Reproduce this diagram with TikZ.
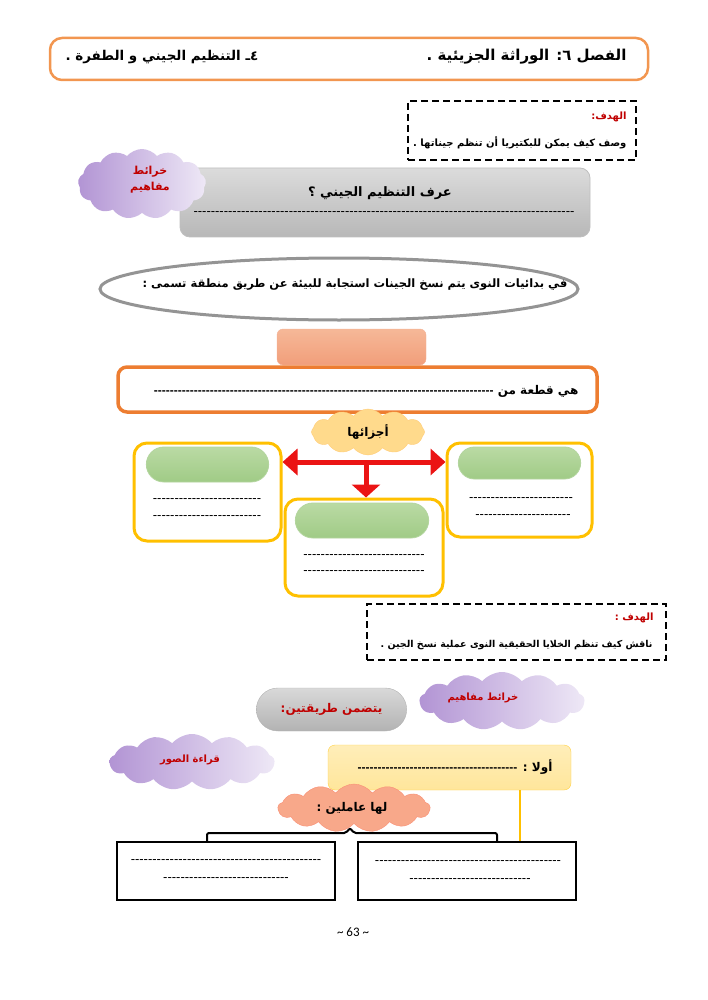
\documentclass[tikz,border=0pt]{standalone}
\usepackage{fontspec}
\usepackage{tikz}
\usetikzlibrary{arrows.meta,positioning,shapes.symbols,shapes.misc,shapes.geometric,calc}
\newfontfamily\arabicfont[Script=Arabic,Ligatures=TeXOff]{DejaVu Sans}
\newfontfamily\dashfont[Ligatures=TeXOff]{Liberation Sans}
\newfontfamily\pagefont{Carlito}
\TeXXeTstate=1
\definecolor{hdrO}{RGB}{242,150,80}
\definecolor{boxO}{RGB}{237,125,49}
\definecolor{goldY}{RGB}{255,192,0}
\definecolor{redT}{RGB}{192,0,0}
\definecolor{arrR}{RGB}{235,20,20}
\definecolor{purL}{RGB}{178,148,212}
\definecolor{purR}{RGB}{238,232,246}
\definecolor{salT}{RGB}{246,184,152}
\definecolor{salB}{RGB}{241,158,122}
\definecolor{grnT}{RGB}{186,218,164}
\definecolor{grnB}{RGB}{160,203,134}
\definecolor{cldY}{RGB}{255,218,140}
\definecolor{cldS}{RGB}{248,168,138}
\definecolor{oulaY}{RGB}{255,230,155}
\newcommand{\artext}[1]{{\arabicfont\beginR #1\endR}}
\newcommand{\blanks}[1]{{\dashfont\foreach \k in {1,...,#1}{-}}}

\begin{document}
\begin{tikzpicture}[
  x=1pt,y=-1pt,
  font=\fontsize{12}{14}\selectfont\bfseries,
  hdr/.style={draw=hdrO,line width=2.5pt,rounded corners=12pt,minimum width=598pt,minimum height=42pt},
  goal/.style={draw,line width=1.8pt,dash pattern=on 7pt off 4pt},
  cldp/.style={cloud,cloud puffs=13,cloud puff arc=100,aspect=2.2,inner sep=0pt,left color=purL,right color=purR,draw=none},
  graybx/.style={draw=black!25,rounded corners=10pt,top color=black!14,bottom color=black!28,line width=0.8pt},
  yelbx/.style={draw=goldY,line width=3pt,rounded corners=13pt,fill=white},
  pill/.style={rounded rectangle,draw=grnB!80!white,top color=grnT,bottom color=grnB,line width=0.8pt},
  blkbx/.style={draw,line width=2pt,fill=white},
  redarr/.style={arrR,line width=5pt},
  rtxt/.style={text=redT},
  dl/.style={font=\fontsize{13}{15}\selectfont}
]
  \useasboundingbox (0,0) rectangle (707,1000);
  % ---------------- HEADER ----------------
  \node[hdr] (hdrbox) at (349,59) {};
  \node[anchor=east,font=\fontsize{15}{17}\selectfont\bfseries] (chap) at (630,57) {\artext{الفصل ٦: الوراثة الجزيئية .}};
  \node[anchor=west,font=\fontsize{13.5}{16}\selectfont\bfseries] (sect) at (62,57) {\artext{٤ـ التنظيم الجيني و الطفرة .}};
  % ---------------- GOAL 1 ----------------
  \node[goal,minimum width=228pt,minimum height=59pt] (goal1) at (522,130.5) {};
  \node[anchor=east,rtxt,font=\fontsize{10}{12}\selectfont\bfseries] (g1h) at (630,117) {\artext{الهدف:}};
  \node[anchor=east,font=\fontsize{10}{12}\selectfont\bfseries] (g1t) at (630,143) {\artext{وصف كيف يمكن للبكتيريا أن تنظم جيناتها .}};
  % ---------------- DEFINE ----------------
  \node[graybx,minimum width=410pt,minimum height=69pt] (defbox) at (385,202.5) {};
  \node[cldp,minimum width=128pt,minimum height=70pt] (cmap1) at (142,184) {};
  \node[rtxt,align=center,font=\fontsize{11}{16}\selectfont\bfseries] (cmap1t) at (150,180) {\artext{خرائط}\\\artext{مفاهيم}};
  \node[font=\fontsize{13}{15}\selectfont\bfseries] (deft) at (380,193) {\artext{عرف التنظيم الجيني ؟}};
  \node[dl] (defl) at (384,214) {\blanks{88}};
  \node[ellipse,draw=black!42,line width=3pt,fill=white,minimum width=478pt,minimum height=62pt] (prok) at (339,289) {};
  \node[font=\fontsize{11.5}{14}\selectfont\bfseries] (prokt) at (355,285) {\artext{في بدائيات النوى يتم نسخ الجينات استجابة للبيئة عن طريق منطقة تسمى :}};
  % ---------------- OPERON ----------------
  \node[draw=salB!80!white,rounded corners=6pt,top color=salT,bottom color=salB,minimum width=149pt,minimum height=36pt] (oper) at (351.5,347) {};
  \node[draw=boxO,line width=3.5pt,rounded corners=9pt,fill=white,minimum width=479pt,minimum height=45pt] (segbox) at (357.5,389.5) {};
  \node[anchor=east] (segt) at (582,391) {\artext{هي قطعة من \blanks{85}}};
  \node[cloud,cloud puffs=12,cloud puff arc=105,aspect=2.4,fill=cldY,draw=cldY!85!orange,minimum width=113pt,minimum height=46pt] (parts) at (368,432) {\artext{أجزائها}};
  % ---------------- THREE PARTS ----------------
  \node[yelbx,minimum width=147pt,minimum height=98pt] (lbox) at (207.5,492) {};
  \node[pill,minimum width=129pt,minimum height=35pt] (lpill) at (207.5,464.5) {};
  \node[dl] (ld1) at (207,501) {\blanks{25}};
  \node[dl] (ld2) at (207,518) {\blanks{25}};
  \node[yelbx,minimum width=145pt,minimum height=94pt] (rbox) at (519.5,490) {};
  \node[pill,minimum width=129pt,minimum height=32pt] (rpill) at (519.5,463) {};
  \node[dl] (rd1) at (521,500) {\blanks{24}};
  \node[dl] (rd2) at (523,517) {\blanks{22}};
  \node[yelbx,minimum width=158pt,minimum height=97pt] (mbox) at (364,547.5) {};
  \node[pill,minimum width=140pt,minimum height=35pt] (mpill) at (362,520.5) {};
  \node[dl] (md1) at (364,557) {\blanks{28}};
  \node[dl] (md2) at (364,573) {\blanks{28}};
  \coordinate (jn) at (366,462);
  \draw[redarr,{Triangle[length=15pt,width=26pt]}-{Triangle[length=15pt,width=26pt]}] (jn -| lbox.east) -- (jn -| rbox.west);
  \draw[redarr,-{Triangle[length=13pt,width=28pt]}] (jn) -- (jn |- mbox.north);
  % ---------------- GOAL 2 ----------------
  \node[goal,minimum width=299pt,minimum height=56pt] (goal2) at (516.5,632) {};
  \node[anchor=east,rtxt,font=\fontsize{10}{12}\selectfont\bfseries] (g2h) at (657,618) {\artext{الهدف :}};
  \node[anchor=east,font=\fontsize{9.5}{12}\selectfont\bfseries] (g2t) at (656,645) {\artext{ناقش كيف تنظم الخلايا الحقيقية النوى عملية نسخ الجين .}};
  % ---------------- EUKARYOTES ----------------
  \node[rounded rectangle,draw=black!30,top color=black!15,bottom color=black!30,minimum width=157pt,minimum height=43pt,rtxt] (ways) at (331.5,709.5) {\artext{يتضمن طريقتين:}};
  \node[cldp,minimum width=165pt,minimum height=58pt] (cmap2) at (502,701) {};
  \node[rtxt,font=\fontsize{10}{12}\selectfont\bfseries] (cmap2t) at (483,698) {\artext{خرائط مفاهيم}};
  \node[cldp,minimum width=165pt,minimum height=56pt] (readp) at (192,762) {};
  \node[rtxt,font=\fontsize{10}{12}\selectfont\bfseries] (readpt) at (190,760) {\artext{قراءة الصور}};
  \node[draw=goldY!75!white,rounded corners=7pt,top color=oulaY!70!white,bottom color=oulaY,minimum width=243pt,minimum height=45pt] (oula) at (449.5,767.5) {};
  \node[anchor=east] (oulat) at (556,767) {\artext{أولا : \blanks{40}}};
  \node[blkbx,minimum width=218pt,minimum height=58pt] (lbx) at (226,871) {};
  \node[blkbx,minimum width=218pt,minimum height=58pt] (rbx) at (467,871) {};
  \coordinate (yl) at (520,0);
  \draw[goldY,line width=2pt] (oula.south -| yl) -- (rbx.north -| yl);
  \node[cloud,cloud puffs=13,cloud puff arc=105,aspect=2.6,fill=cldS,draw=cldS!85!red,minimum width=152pt,minimum height=48pt] (fact) at (354,808) {};
  \node (factt) at (352,808) {\artext{لها عاملين :}};
  \draw[line width=2pt,rounded corners=2pt] (lbx.north -| 207,0) -- (207,833) -- (346,833) -- (350,828) -- (354,833) -- (497,833) -- (rbx.north -| 497,0);
  \node[dl] (lx1) at (226,862) {\blanks{44}};
  \node[dl] (lx2) at (226,880) {\blanks{29}};
  \node[dl] (rx1) at (468,863) {\blanks{43}};
  \node[dl] (rx2) at (470,881) {\blanks{28}};
  \node[font=\pagefont\fontsize{13}{15}\selectfont] (pgno) at (353,932) {\textasciitilde{} 63 \textasciitilde};
\end{tikzpicture}
\end{document}
